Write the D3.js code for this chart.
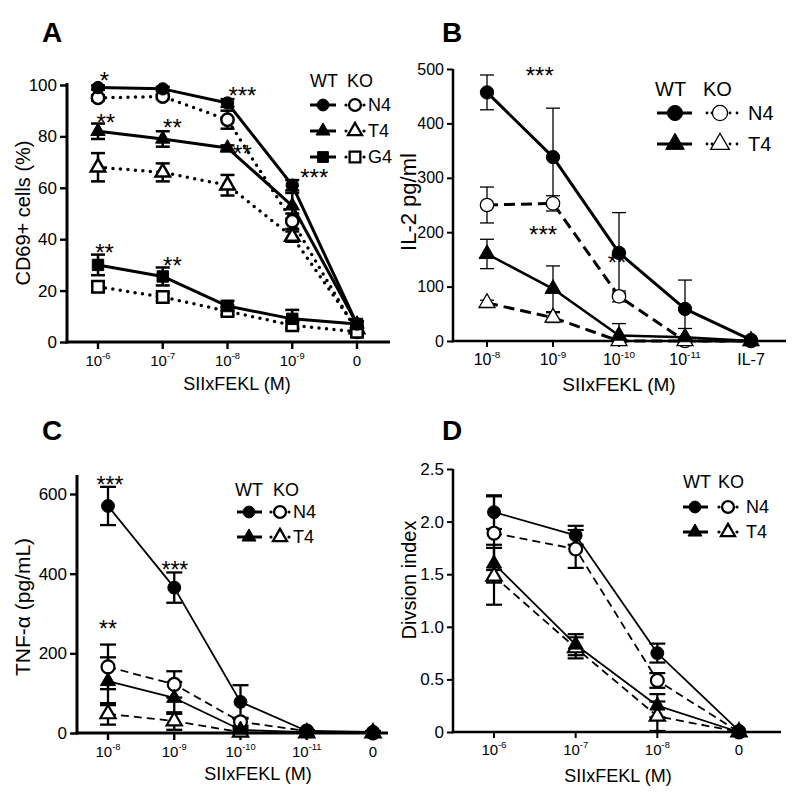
<!DOCTYPE html>
<html><head><meta charset="utf-8">
<script src="https://cdn.jsdelivr.net/npm/d3@7"></script>
<style>
body{margin:0;background:#fff}
svg{display:block}
text{font-family:"Liberation Sans",Arial,Helvetica,sans-serif;fill:#000}
</style>
</head><body>
<svg id="c" width="800" height="801"></svg>
<script>
// ---------------- DATA ----------------
// Panel A: CD69+ cells (%)
const aTicks = ["10^-6","10^-7","10^-8","10^-9","0"];
const aYTicks = [0,20,40,60,80,100];
const aWtN4 = [99, 98.5, 93, 61, 7];     const aWtN4Err = [0.8, 0.8, 1.5, 2, 1];
const aKoN4 = [95, 95.5, 86.5, 47, 4];   const aKoN4Err = [1, 1, 3.5, 3, 1];
const aWtT4 = [82, 79, 75.5, 53, 7];     const aWtT4Err = [3, 3, 1, 5, 1];
const aKoT4 = [68, 66, 61, 41, 5];       const aKoT4Err = [5.5, 3.5, 4, 2, 1];
const aWtG4 = [30, 25.5, 14, 9, 7];      const aWtG4Err = [4, 3.5, 2, 3.5, 1];
const aKoG4 = [21.5, 17.5, 12, 6.5, 4];  const aKoG4Err = [2, 1.5, 1.5, 1.5, 1];
const aStars = [["*",0.1,104],["***",2.23,98],["**",0.12,87.5],["**",1.15,85.5],["**",2.23,75.5],["***",3.34,66],["**",0.1,37],["**",1.15,32]];

// Panel B: IL-2 pg/ml
const bTicks = ["10^-8","10^-9","10^-10","10^-11","IL-7"];
const bYTicks = [0,100,200,300,400,500];
const bWtN4 = [457, 338, 162, 59, 2];  const bWtN4Err = [32, 90, 74, 53, 0];
const bKoN4 = [250, 253, 82, 0, 0];    const bKoN4Err = [33, 14, 10, 2, 0];
const bWtT4 = [160, 96, 10, 7, 0];     const bWtT4Err = [27, 42, 22, 16, 0];
const bKoT4 = [70, 43, 0, 0, 0];       const bKoT4Err = [5, 9, 0, 0, 0];
const bStars = [["***",0.8,498],["***",0.85,206],["**",1.97,154]];

// Panel C: TNF-alpha (pg/mL)
const cTicks = ["10^-8","10^-9","10^-10","10^-11","0"];
const cYTicks = [0,200,400,600];
const cWtN4 = [570, 365, 78, 5, 3];  const cWtN4Err = [48, 38, 42, 2, 2];
const cKoN4 = [166, 122, 28, 5, 0];  const cKoN4Err = [56, 33, 10, 2, 0];
const cWtT4 = [130, 88, 8, 2, 0];    const cWtT4Err = [60, 40, 5, 1, 0];
const cKoT4 = [48, 30, 2, 0, 0];     const cKoT4Err = [27, 22, 5, 0, 0];
const cStars = [["***",0.03,635],["***",1.01,422],["**",0,274]];

// Panel D: Division index
const dTicks = ["10^-6","10^-7","10^-8","0"];
const dYTicks = [0,0.5,1.0,1.5,2.0,2.5];
const dWtN4 = [2.09, 1.87, 0.75, 0.01]; const dWtN4Err = [0.16, 0.09, 0.09, 0];
const dKoN4 = [1.89, 1.74, 0.49, 0];    const dKoN4Err = [0.35, 0.18, 0.07, 0];
const dWtT4 = [1.6, 0.83, 0.25, 0];     const dWtT4Err = [0.18, 0.1, 0.11, 0];
const dKoT4 = [1.48, 0.8, 0.15, 0];     const dKoT4Err = [0.27, 0.1, 0.14, 0];

// ---------------- DRAWING ----------------
const svg = d3.select("#c");

function symPath(shape, size){
  const t = {circle:d3.symbolCircle, triangle:d3.symbolTriangle, square:d3.symbolSquare}[shape];
  return d3.symbol().type(t).size(size)();
}

function tickLabel(sel, label, x, y, fs){
  const t = sel.append("text").attr("x", x).attr("y", y).attr("text-anchor","middle").style("font-size", fs+"px");
  if (label.includes("^")){
    const [b,e] = label.split("^");
    t.append("tspan").text(b);
    t.append("tspan").attr("dy", -fs*0.45).style("font-size", (fs*0.62)+"px").text(e);
  } else t.text(label);
}

function panel(c){
  const g = svg.append("g");
  const x = d3.scaleLinear().domain([0, c.ticks.length-1]).range([c.x0, c.x1]);
  const y = d3.scaleLinear().domain([0, c.ymax]).range([c.yb, c.yt]);

  // y axis
  const ya = d3.axisLeft(y).tickValues(c.yticks).tickSize(c.tickLen).tickPadding(3)
      .tickFormat(c.yfmt || d3.format("d"));
  const yg = g.append("g").attr("transform", `translate(${c.ax},0)`).call(ya);
  yg.select(".domain").remove();
  yg.selectAll("line").attr("stroke","#000").attr("stroke-width", c.axW*0.8);
  yg.selectAll("text").style("font-size", c.tickFs+"px").style("font-family","'Liberation Sans',Arial,sans-serif").attr("fill","#000");
  g.append("line").attr("x1", c.ax).attr("x2", c.ax).attr("y1", c.yb + c.axW/2).attr("y2", c.ytop)
    .attr("stroke","#000").attr("stroke-width", c.axW);
  // x axis
  g.append("line").attr("x1", c.ax - c.axW/2).attr("x2", c.xend).attr("y1", c.yb).attr("y2", c.yb)
    .attr("stroke","#000").attr("stroke-width", c.axW);
  c.ticks.forEach((lab,i)=>{
    g.append("line").attr("x1", x(i)).attr("x2", x(i)).attr("y1", c.yb).attr("y2", c.yb + c.tickLen)
      .attr("stroke","#000").attr("stroke-width", c.axW*0.8);
    tickLabel(g, lab, x(i), c.yb + c.tickLen + c.xtickFs + 2, c.xtickFs);
  });

  // axis titles
  g.append("text").attr("x", c.xlab[0]).attr("y", c.xlab[1]).attr("text-anchor","middle")
    .style("font-size", c.labFs+"px").text("SIIxFEKL (M)");
  g.append("text").attr("transform", `translate(${c.ylab[0]},${c.ylab[1]}) rotate(-90)`)
    .attr("text-anchor","middle").attr("dy","0.35em").style("font-size", c.ylabFs+"px").text(c.ytitle);
  // panel letter
  g.append("text").attr("x", c.letter[0]).attr("y", c.letter[1]).style("font-size","28px")
    .style("font-weight","bold").text(c.name);

  const line = d3.line().x((d,i)=>x(i)).y(d=>y(d));
  // lines
  c.series.forEach(s=>{
    g.append("path").attr("d", line(s.vals)).attr("fill","none").attr("stroke","#000")
      .attr("stroke-width", s.lw).attr("stroke-dasharray", s.dash || null)
      .attr("stroke-linecap", s.cap || "butt").attr("stroke-linejoin","round");
  });
  // error bars
  c.series.forEach(s=>{
    s.vals.forEach((v,i)=>{
      const e = s.err[i]; if (!e) return;
      const lo = Math.max(0, v - e), hi = v + e;
      g.append("line").attr("x1", x(i)).attr("x2", x(i)).attr("y1", y(lo)).attr("y2", y(hi))
        .attr("stroke","#000").attr("stroke-width", c.ebW);
      [lo, hi].forEach(b=>{
        if (b===0) return;
        g.append("line").attr("x1", x(i)-c.capW).attr("x2", x(i)+c.capW).attr("y1", y(b)).attr("y2", y(b))
          .attr("stroke","#000").attr("stroke-width", c.ebW);
      });
    });
  });
  // markers: open (KO) first, filled (WT) on top
  const ordered = c.series.filter(s=>!s.filled).concat(c.series.filter(s=>s.filled));
  ordered.forEach(s=>{
    s.vals.forEach((v,i)=>{
      g.append("path").attr("d", symPath(s.shape, c.msize[s.shape]))
        .attr("transform", `translate(${x(i)},${y(v)})`)
        .attr("fill", s.filled ? "#000" : "#fff").attr("stroke","#000")
        .attr("stroke-width", s.filled ? 1 : c.openW);
    });
  });
  // stars
  (c.stars||[]).forEach(([t,i,v])=>{
    g.append("text").attr("x", x(i)).attr("y", y(v) + c.starFs*0.58).attr("text-anchor","middle")
      .style("font-size", c.starFs+"px").text(t);
  });
  // legend
  const L = c.legend;
  g.append("text").attr("x", L.wt).attr("y", L.head).style("font-size", L.fs+"px").text("WT");
  g.append("text").attr("x", L.ko).attr("y", L.head).style("font-size", L.fs+"px").text("KO");
  L.rows.forEach(([lab, shape, ry])=>{
    g.append("line").attr("x1", L.l1).attr("x2", L.l2).attr("y1", ry).attr("y2", ry)
      .attr("stroke","#000").attr("stroke-width", L.lw);
    g.append("path").attr("d", symPath(shape, L.msize[shape])).attr("transform", `translate(${L.fm},${ry})`)
      .attr("fill","#000").attr("stroke","#000").attr("stroke-width",1);
    L.dots.forEach(dx=>{
      g.append("circle").attr("cx", L.om + dx).attr("cy", ry).attr("r", L.dotR).attr("fill","#000");
    });
    g.append("path").attr("d", symPath(shape, L.msize[shape])).attr("transform", `translate(${L.om},${ry})`)
      .attr("fill","#fff").attr("stroke","#000").attr("stroke-width", L.openW);
    g.append("text").attr("x", L.lab).attr("y", ry).attr("dy","0.36em").style("font-size", L.fs+"px").text(lab);
  });
}

// Panel A
panel({
  name:"A", letter:[42,42], ticks:aTicks, yticks:aYTicks, ymax:100,
  x0:98, x1:357, ax:67, xend:390, yb:342, yt:85, ytop:83,
  axW:3, tickLen:7, tickFs:17, xtickFs:15, labFs:18, ylabFs:20, ytitle:"CD69+ cells (%)",
  xlab:[237,390], ylab:[23,213], ebW:2.5, capW:7, openW:2.5, starFs:24,
  msize:{circle:120, triangle:90, square:130},
  series:[
    {vals:aWtN4, err:aWtN4Err, shape:"circle", filled:true, lw:3},
    {vals:aWtT4, err:aWtT4Err, shape:"triangle", filled:true, lw:3},
    {vals:aWtG4, err:aWtG4Err, shape:"square", filled:true, lw:3},
    {vals:aKoN4, err:aKoN4Err, shape:"circle", filled:false, lw:3.5, dash:"0,7.5", cap:"round"},
    {vals:aKoT4, err:aKoT4Err, shape:"triangle", filled:false, lw:3.5, dash:"0,7.5", cap:"round"},
    {vals:aKoG4, err:aKoG4Err, shape:"square", filled:false, lw:3.5, dash:"0,7.5", cap:"round"}
  ],
  stars:aStars,
  legend:{wt:310, ko:347, head:87, fs:18, l1:310, l2:336, lw:3, fm:323, om:355, dots:[-9,9], dotR:1.6,
    lab:368, openW:2.3, msize:{circle:110, triangle:85, square:115},
    rows:[["N4","circle",105],["T4","triangle",131],["G4","square",157]]}
});

// Panel B
panel({
  name:"B", letter:[442,42], ticks:bTicks, yticks:bYTicks, ymax:500,
  x0:487, x1:751, ax:453, xend:786, yb:341, yt:69, ytop:69,
  axW:2.5, tickLen:6, tickFs:16, xtickFs:16, labFs:19, ylabFs:22, ytitle:"IL-2 pg/ml",
  xlab:[619,391], ylab:[408,202], ebW:1.3, capW:7, openW:1.3, starFs:24,
  msize:{circle:140, triangle:110, square:130},
  series:[
    {vals:bWtN4, err:bWtN4Err, shape:"circle", filled:true, lw:3},
    {vals:bWtT4, err:bWtT4Err, shape:"triangle", filled:true, lw:2.5},
    {vals:bKoN4, err:bKoN4Err, shape:"circle", filled:false, lw:3, dash:"11,6"},
    {vals:bKoT4, err:bKoT4Err, shape:"triangle", filled:false, lw:3, dash:"11,6"}
  ],
  stars:bStars,
  legend:{wt:655, ko:703, head:96, fs:20, l1:657, l2:692, lw:3, fm:675, om:720, dots:[-13,-8,10,17], dotR:1.4,
    lab:748, openW:1.3, msize:{circle:180, triangle:150, square:150},
    rows:[["N4","circle",113],["T4","triangle",144]]}
});

// Panel C
panel({
  name:"C", letter:[42,440], ticks:cTicks, yticks:cYTicks, ymax:600,
  x0:108, x1:373, ax:77, xend:388, yb:733, yt:494, ytop:475,
  axW:3, tickLen:7, tickFs:17, xtickFs:15, labFs:18, ylabFs:21, ytitle:"TNF-α (pg/mL)",
  xlab:[258,780], ylab:[23,607], ebW:2.3, capW:8, openW:2.2, starFs:23,
  msize:{circle:130, triangle:100, square:130},
  series:[
    {vals:cWtN4, err:cWtN4Err, shape:"circle", filled:true, lw:1.8},
    {vals:cWtT4, err:cWtT4Err, shape:"triangle", filled:true, lw:1.8},
    {vals:cKoN4, err:cKoN4Err, shape:"circle", filled:false, lw:1.8, dash:"8,5"},
    {vals:cKoT4, err:cKoT4Err, shape:"triangle", filled:false, lw:1.8, dash:"8,5"}
  ],
  stars:cStars,
  legend:{wt:235, ko:273, head:496, fs:18, l1:237, l2:262, lw:3, fm:249, om:280, dots:[-9,9], dotR:1.6,
    lab:293, openW:2.3, msize:{circle:110, triangle:85, square:110},
    rows:[["N4","circle",512],["T4","triangle",537]]}
});

// Panel D
panel({
  name:"D", letter:[442,440], ticks:dTicks, yticks:dYTicks, ymax:2.5, yfmt:d=> d===0 ? "0" : d3.format(".1f")(d),
  x0:494, x1:739, ax:453, xend:781, yb:732, yt:469, ytop:469,
  axW:2.5, tickLen:6, tickFs:17, xtickFs:15, labFs:18, ylabFs:20, ytitle:"Divsion index",
  xlab:[618,782], ylab:[409,580], ebW:2.2, capW:8, openW:2.2, starFs:21,
  msize:{circle:130, triangle:100, square:130},
  series:[
    {vals:dWtN4, err:dWtN4Err, shape:"circle", filled:true, lw:1.8},
    {vals:dWtT4, err:dWtT4Err, shape:"triangle", filled:true, lw:1.8},
    {vals:dKoN4, err:dKoN4Err, shape:"circle", filled:false, lw:1.8, dash:"8,5"},
    {vals:dKoT4, err:dKoT4Err, shape:"triangle", filled:false, lw:1.8, dash:"8,5"}
  ],
  stars:[],
  legend:{wt:683, ko:718, head:488, fs:18, l1:683, l2:708, lw:3, fm:695, om:728, dots:[-9,9], dotR:1.6,
    lab:746, openW:2.3, msize:{circle:110, triangle:85, square:110},
    rows:[["N4","circle",507],["T4","triangle",532]]}
});
</script>
</body></html>
